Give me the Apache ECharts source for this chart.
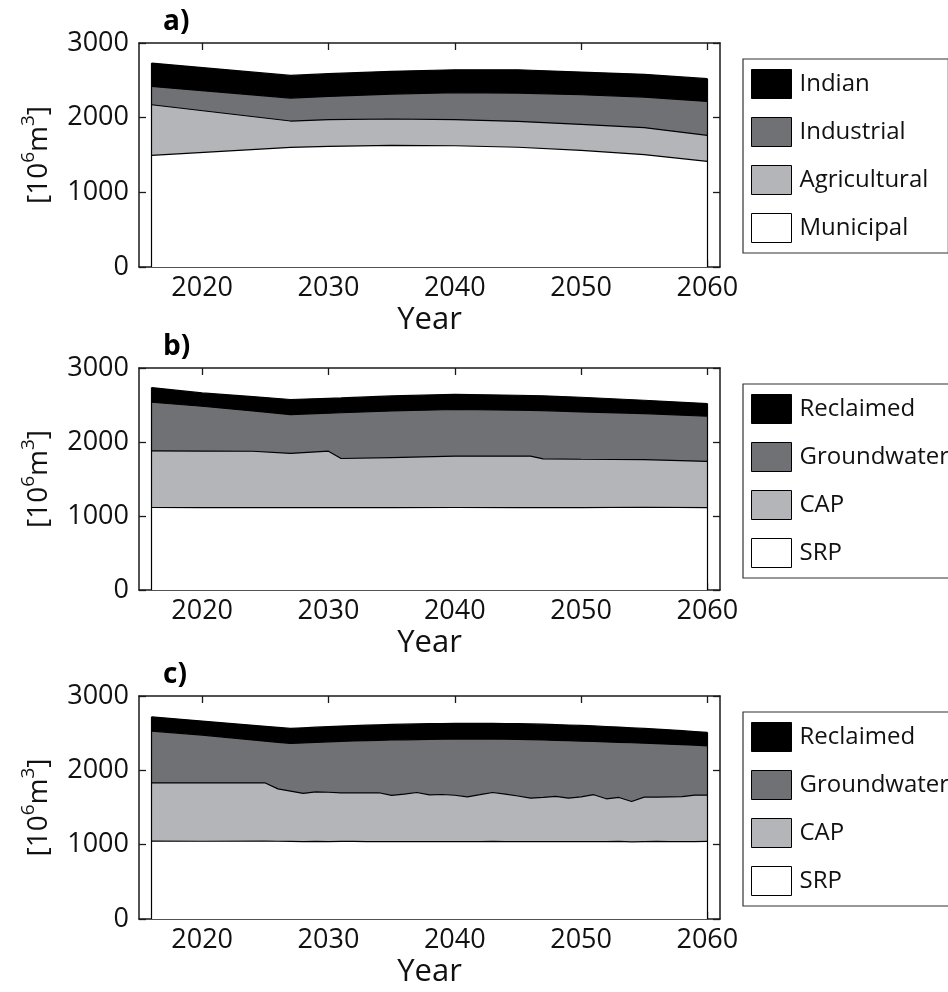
<!DOCTYPE html>
<html>
<head>
<meta charset="utf-8">
<script src="https://cdn.jsdelivr.net/npm/echarts@6/dist/echarts.min.js"></script>
<style>
  html, body { margin: 0; padding: 0; background: #fff; }
  #chart { width: 948px; height: 992px; }
</style>
</head>
<body>
<div id="chart"></div>
<script>
// Water demand by user group (a) and by source under two supply cases (b, c),
// in million cubic metres. Each array holds the upper edge of a stacked layer.

const yearTicks = [2020, 2030, 2040, 2050, 2060];
const yTicks = [0, 1000, 2000, 3000];

// a) demand by sector
const yearsA = [2016, 2027, 2030, 2035, 2040, 2045, 2050, 2055, 2060];
const indianTop       = [2731, 2566, 2589, 2620, 2642, 2642, 2611, 2580, 2522];
const industrialTop   = [2419, 2263, 2285, 2316, 2334, 2330, 2307, 2276, 2218];
const agriculturalTop = [2173, 1955, 1973, 1982, 1973, 1950, 1910, 1866, 1763];
const municipalTop    = [1495, 1602, 1616, 1629, 1624, 1604, 1562, 1504, 1415];

// b) supply by source
const yearsB = [2016, 2020, 2024, 2027, 2030, 2031, 2035, 2040, 2045, 2046, 2047, 2050, 2055, 2060];
const reclaimedTopB   = [2735, 2663, 2614, 2574, 2590, 2595, 2622, 2645, 2632, 2628, 2624, 2605, 2564, 2519];
const groundwaterTopB = [2537, 2483, 2420, 2371, 2390, 2395, 2420, 2439, 2430, 2428, 2425, 2407, 2384, 2348];
const capTopB         = [1880, 1878, 1875, 1845, 1876, 1777, 1790, 1808, 1808, 1808, 1772, 1767, 1763, 1737];
const srpTopB         = [1115, 1112, 1115, 1112, 1115, 1113, 1114, 1115, 1114, 1114, 1114, 1113, 1118, 1114];

// c) supply by source, alternative case
const yearsC = [2016, 2020, 2025, 2026, 2027, 2028, 2029, 2030, 2031, 2032, 2033, 2034, 2035, 2036, 2037, 2038, 2039, 2040, 2041,
                2042, 2043, 2044, 2045, 2046, 2047, 2048, 2049, 2050, 2051, 2052, 2053, 2054, 2055, 2056, 2057, 2058, 2059, 2060];
const reclaimedTopC   = [2720, 2663, 2592, 2578, 2564, 2572, 2580, 2588, 2595, 2601, 2607, 2612, 2617, 2621, 2625, 2628, 2630, 2631, 2632,
                         2632, 2631, 2630, 2628, 2625, 2621, 2616, 2610, 2604, 2597, 2590, 2582, 2573, 2564, 2555, 2545, 2534, 2522, 2510];
const groundwaterTopC = [2528, 2474, 2392, 2377, 2362, 2368, 2375, 2384, 2390, 2396, 2400, 2404, 2408, 2411, 2414, 2417, 2419, 2420, 2421,
                         2421, 2420, 2418, 2415, 2412, 2408, 2404, 2399, 2394, 2388, 2382, 2377, 2371, 2365, 2359, 2352, 2345, 2338, 2330];
const capTopC         = [1830, 1830, 1830, 1750, 1720, 1690, 1711, 1705, 1698, 1698, 1698, 1698, 1664, 1680, 1702, 1670, 1675, 1665, 1644,
                         1672, 1702, 1680, 1655, 1626, 1635, 1650, 1626, 1644, 1672, 1617, 1635, 1581, 1640, 1640, 1644, 1646, 1666, 1666];
const srpTopC         = [1048, 1046, 1048, 1046, 1044, 1042, 1044, 1042, 1043, 1043, 1042, 1040, 1042, 1042, 1042, 1041, 1042, 1042, 1041,
                         1042, 1043, 1041, 1042, 1041, 1041, 1042, 1042, 1041, 1042, 1041, 1043, 1038, 1041, 1043, 1041, 1042, 1042, 1044];

const namesA = ['Indian', 'Industrial', 'Agricultural', 'Municipal'];
const namesS = ['Reclaimed', 'Groundwater', 'CAP', 'SRP'];
const fills = ['#000000', '#707175', '#b4b5b8', '#ffffff'];

const FONT = 'Open Sans';
const panels = [
  { label: 'a)', top: 43, height: 224, years: yearsA, layers: [indianTop, industrialTop, agriculturalTop, municipalTop], names: namesA },
  { label: 'b)', top: 368, height: 222, years: yearsB, layers: [reclaimedTopB, groundwaterTopB, capTopB, srpTopB], names: namesS },
  { label: 'c)', top: 696, height: 223, years: yearsC, layers: [reclaimedTopC, groundwaterTopC, capTopC, srpTopC], names: namesS }
];

const frameLine = { show: true, onZero: false, lineStyle: { color: '#1a1a1a', width: 1.5 } };
const tickStyle = { inside: true, length: 7, lineStyle: { color: '#1a1a1a', width: 1.3 } };
const plain = v => String(v);

const grid = [], xAxis = [], yAxis = [], series = [], legend = [], title = [];

panels.forEach((p, k) => {
  grid.push({ left: 139, right: 228, top: p.top, height: p.height });

  xAxis.push({
    type: 'value', gridIndex: k, min: 2015, max: 2061, position: 'bottom',
    axisLine: frameLine,
    axisTick: Object.assign({ customValues: yearTicks }, tickStyle),
    axisLabel: { customValues: yearTicks, formatter: plain, fontSize: 27, color: '#111', fontFamily: FONT, margin: 8 },
    splitLine: { show: false },
    name: 'Year', nameLocation: 'middle', nameGap: 38,
    nameTextStyle: { fontSize: 31, color: '#111', fontFamily: FONT }
  });
  xAxis.push({
    type: 'value', gridIndex: k, min: 2015, max: 2061, position: 'top',
    axisLine: frameLine,
    axisTick: Object.assign({ customValues: yearTicks }, tickStyle),
    axisLabel: { show: false }, splitLine: { show: false }
  });

  yAxis.push({
    type: 'value', gridIndex: k, min: 0, max: 3000, interval: 1000, position: 'left',
    axisLine: frameLine, axisTick: tickStyle,
    axisLabel: { formatter: plain, fontSize: 27, color: '#111', fontFamily: FONT, margin: 10 },
    splitLine: { show: false },
    name: '{b|[10}{s|6}{b|m}{s|3}{b|]}', nameLocation: 'middle', nameRotate: 90, nameGap: 80,
    nameTextStyle: {
      rich: {
        b: { fontSize: 28, lineHeight: 40, color: '#111', fontFamily: FONT },
        s: { fontSize: 19, lineHeight: 14, verticalAlign: 'top', color: '#111', fontFamily: FONT }
      }
    }
  });
  yAxis.push({
    type: 'value', gridIndex: k, min: 0, max: 3000, interval: 1000, position: 'right',
    axisLine: frameLine, axisTick: tickStyle,
    axisLabel: { show: false }, splitLine: { show: false }
  });

  const n = p.years.length;
  p.layers.forEach((arr, j) => {
    const s = {
      type: 'line', name: p.names[j], xAxisIndex: 2 * k, yAxisIndex: 2 * k,
      data: p.years.map((yr, i) => [yr, arr[i]]),
      symbol: 'none', silent: true, animation: false,
      lineStyle: { color: '#000', width: 1.2 },
      itemStyle: { color: fills[j] },
      areaStyle: { color: fills[j], opacity: 1, origin: 'start' }
    };
    if (j === p.layers.length - 1) {
      // closing edges of the stacked patches at the first and last year
      s.markLine = {
        silent: true, symbol: 'none', animation: false,
        label: { show: false },
        lineStyle: { color: '#000', width: 1.2, type: 'solid' },
        data: [
          [{ coord: [p.years[0], 0] }, { coord: [p.years[0], p.layers[0][0]] }],
          [{ coord: [p.years[n - 1], 0] }, { coord: [p.years[n - 1], p.layers[0][n - 1]] }]
        ]
      };
    }
    series.push(s);
  });

  legend.push({
    orient: 'vertical', left: 743, top: p.top + 16,
    icon: 'rect', itemWidth: 40, itemHeight: 29, itemGap: 18,
    borderColor: '#333', borderWidth: 1.2, padding: [10, 20, 10, 8],
    selectedMode: false,
    itemStyle: { borderColor: '#000', borderWidth: 1 },
    textStyle: { fontSize: 24, color: '#111', fontFamily: FONT, padding: [0, 0, 0, 3] },
    data: p.names.map((nm, j) => ({ name: nm, itemStyle: { color: fills[j], borderColor: '#000', borderWidth: 1 } }))
  });

  title.push({
    text: p.label, left: 158, top: p.top - 40,
    textStyle: { fontSize: 28, fontWeight: 'bold', color: '#000', fontFamily: FONT }
  });
});

const chart = echarts.init(document.getElementById('chart'), null, { renderer: 'canvas' });
chart.setOption({ animation: false, backgroundColor: '#fff', grid, xAxis, yAxis, series, legend, title });
</script>
</body>
</html>
